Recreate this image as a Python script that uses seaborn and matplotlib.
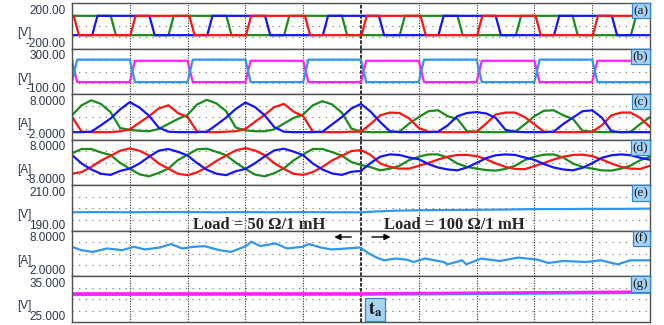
import numpy as np
import matplotlib
matplotlib.use("Agg")
import matplotlib.pyplot as plt
import seaborn as sns

sns.set_style("white")
plt.rcParams["mathtext.fontset"] = "stix"

# ---------------------------------------------------------------- data
# time base in scope divisions (10 divisions across the screen)
t_grid = np.arange(61) / 6.0

# (a) line voltages [V]: switching edge times (divisions) and levels
va_high, va_low = 90, -80
red_a_rise = [1.01, 3.01, 5.01, 7.01, 9.01]
red_a_fall = [0.03, 2.03, 4.03, 6.03, 8.02]
green_a_rise = [1.67, 3.67, 5.67, 7.68, 9.67]
green_a_fall = [0.67, 2.67, 4.67, 6.67, 8.66]
blue_a_rise = [0.35, 2.34, 4.34, 6.34, 8.34]
blue_a_fall = [1.34, 3.34, 5.31, 7.33, 9.34]

# (b) complementary gate/DC-link voltages [V]
cyan_b_high, cyan_b_low = 205, 8
mag_b_high, mag_b_low = 195, 8
cyan_b_rise = [0.0, 2.0, 4.0, 6.0, 8.0]
cyan_b_fall = [1.0, 3.0, 5.0, 7.0, 9.0]
mag_b_rise = [1.0, 3.0, 5.0, 7.0, 9.0]
mag_b_fall = [0.0, 2.0, 4.0, 6.0, 8.0]

# (c) phase currents, rectified view [A]
c_red = [3.1, -0.2, -0.3, -0.3, -0.3, -0.1, 0.3, 1.8, 3.2, 4.9, 5.6, 3.9,
         3.0, -0.2, -0.3, -0.3, -0.2, -0.1, 0.4, 2.0, 3.5, 5.2, 5.9, 4.2,
         3.2, -0.2, -0.3, -0.3, -0.3, -0.2,
         -0.2, 1.5, 3.4, 4.0, 3.9, 2.7, 0.6, -0.2, -0.3, -0.3, -0.3, -0.3,
         -0.2, 1.6, 3.6, 4.0, 4.0, 3.0, 1.4, -0.2, -0.3, -0.3, -0.3, -0.3,
         -0.2, 1.2, 3.4, 4.0, 4.0, 2.8, 0.8]
c_green = [3.4, 5.6, 6.7, 5.9, 4.1, 0.6, 0.2, 0.0, -0.1, 0.4, 1.5, 2.6,
           3.5, 5.8, 6.8, 6.0, 4.3, 0.7, 0.1, -0.1, -0.1, 0.3, 1.6, 2.8,
           3.6, 5.6, 6.5, 5.8, 4.0, 0.5,
           -0.2, -0.3, -0.3, -0.3, -0.2, 1.6, 3.0, 4.3, 4.5, 3.2, 2.6, -0.1,
           -0.2, -0.3, -0.3, -0.3, -0.2, 1.4, 3.2, 4.4, 4.5, 3.4, 2.6, 0.0,
           -0.2, -0.3, -0.3, -0.3, -0.2, 1.5, 3.0]
c_blue = [-0.3, -0.3, -0.2, 1.2, 2.7, 4.7, 6.3, 5.1, 3.3, 0.7, -0.2, -0.3,
          -0.3, -0.3, -0.2, 1.3, 2.9, 4.8, 6.2, 5.2, 3.4, 0.8, -0.2, -0.3,
          -0.3, -0.3, -0.2, 1.4, 3.0, 4.9,
          5.9, 4.2, 1.9, -0.1, -0.3, -0.3, -0.3, -0.3, -0.2, 1.2, 3.2, 3.9,
          4.1, 3.8, 2.8, 0.2, -0.2, -0.3, -0.3, -0.3, -0.2, 1.5, 2.9, 4.3,
          4.5, 2.9, -0.1, -0.3, -0.3, -0.3, -0.3]

# (d) load phase currents [A]
d_red = [-3.9, -3.3, -1.5, 0.7, 2.4, 4.2, 5.0, 4.2, 2.5, -0.3, -2.1, -3.9,
         -4.4, -3.4, -1.6, 0.6, 2.5, 4.3, 5.1, 4.3, 2.6, -0.2, -2.2, -3.9,
         -4.3, -3.3, -1.5, 0.8, 2.4, 4.1,
         4.4, 2.7, -0.3, -1.5, -2.1, -2.1, -1.1, -0.1, 1.1, 2.1, 2.7, 2.7,
         2.3, 1.2, -0.3, -1.5, -2.2, -2.3, -1.2, -0.1, 1.1, 2.1, 2.7, 2.8,
         2.3, 1.1, -0.3, -1.5, -2.1, -2.2, -1.1]
d_green = [3.3, 4.8, 4.8, 3.6, 2.7, -0.1, -2.1, -4.1, -4.8, -3.6, -2.1, 0.9,
           2.8, 4.7, 4.9, 3.8, 2.6, 0.0, -2.2, -4.2, -4.8, -3.7, -2.0, 0.8,
           2.9, 4.8, 4.8, 3.7, 2.5, 0.2,
           -0.8, -1.6, -2.7, -2.1, -1.1, 0.9, 2.1, 2.9, 2.9, 1.8, -0.3, -1.5,
           -2.1, -2.6, -2.8, -2.2, -1.1, 0.9, 2.1, 2.8, 2.9, 1.8, -0.3, -1.5,
           -2.1, -2.7, -2.8, -2.1, -1.0, 0.9, 2.1]
d_blue = [2.7, -0.3, -2.4, -3.9, -4.3, -2.9, -2.1, -0.3, 2.1, 4.2, 4.8, 3.8,
          2.5, -0.2, -2.5, -3.9, -4.4, -3.0, -2.2, -0.2, 2.2, 4.3, 4.9, 3.9,
          2.6, -0.3, -2.4, -3.8, -4.3, -3.2,
          -2.9, -0.1, 2.1, 2.9, 2.7, 1.8, 1.2, -0.5, -1.7, -2.4, -2.7, -1.7,
          -0.1, 1.6, 2.6, 2.9, 2.7, 1.8, 1.0, -0.5, -1.7, -2.4, -2.7, -1.8,
          -0.2, 1.7, 2.6, 2.9, 2.6, 1.7, 1.0]

# (e) DC-link voltage [V]
e_t = [0, 0.5, 1.0, 1.5, 2.0, 2.5, 3.0, 3.5, 4.0, 4.5, 5.0, 5.3, 5.6, 6.0,
       6.5, 7.0, 7.5, 8.0, 8.5, 9.0, 9.5, 10.0]
e_v = [198.2, 198.3, 198.2, 198.3, 198.3, 198.2, 198.3, 198.2, 198.3, 198.2,
       198.2, 198.6, 198.9, 199.1, 199.2, 199.3, 199.4, 199.6, 199.6, 199.7,
       199.7, 199.8]

# (f) DC input current [A]
f_t = [0.0, 0.16, 0.36, 0.61, 0.87, 1.07, 1.26, 1.52, 1.71, 1.91, 2.10, 2.29,
       2.55, 2.75, 3.01, 3.10, 3.26, 3.52, 3.72, 3.98, 4.10, 4.30, 4.49, 4.75,
       4.98, 5.14, 5.27, 5.40, 5.59, 5.79, 5.91, 6.11, 6.43, 6.50, 6.75, 6.82,
       7.08, 7.40, 7.72, 8.05, 8.24, 8.50, 8.89, 9.15, 9.44, 9.66, 10.0]
f_v = [5.91, 5.47, 5.24, 5.69, 5.47, 5.91, 5.56, 5.82, 6.27, 5.69, 5.91, 6.00,
       5.47, 5.24, 6.00, 6.58, 6.00, 6.36, 5.69, 5.91, 6.27, 5.82, 5.56, 5.69,
       5.82, 5.02, 4.49, 4.13, 4.36, 4.22, 3.91, 4.36, 3.91, 3.60, 4.13, 3.60,
       4.36, 4.04, 4.49, 4.22, 3.78, 4.04, 3.91, 4.13, 3.60, 4.13, 4.13]

# (g) capacitor voltages [V]
g_t = [0, 2.5, 5.0, 7.5, 10.0]
g_mag = [31.25, 31.25, 31.25, 31.45, 31.65]
g_cyan = [31.0, 31.05, 31.05, 31.25, 31.45]

# panel ranges, units and tags
y_top = ["200.00", "300.00", "8.0000", "8.0000", "210.00", "8.0000", "35.000"]
y_bot = ["-200.00", "-100.00", "-2.0000", "-8.0000", "190.00", "2.0000", "25.000"]
y_lim = [(-200, 200), (-100, 300), (-2, 8), (-8, 8), (190, 210), (2, 8), (25, 35)]
units = ["[V]", "[V]", "[A]", "[A]", "[V]", "[A]", "[V]"]
tags = ["(a)", "(b)", "(c)", "(d)", "(e)", "(f)", "(g)"]

# ---------------------------------------------------------------- style
RED, GREEN, BLUE = "#ff1414", "#1a8c1a", "#1414ff"
CYAN, MAGENTA = "#2f96f2", "#ff1eff"
EDGE = 0.09   # switching edge duration, divisions
LW = 1.6
W, H = 664, 325
X0, X1 = 72, 650
Y0, Y1 = 3.3, 322.0
PH = (Y1 - Y0) / 7


def edge_trace(start, rises, falls, hi, lo):
    events = sorted([(t, hi) for t in rises] + [(t, lo) for t in falls])
    level = start
    ts, vs = [0.0], [level]
    for t, new in events:
        ts += [t, t + EDGE]
        vs += [level, new]
        level = new
    ts.append(10.0)
    vs.append(level)
    return ts, vs


def trace(ax, x, y, color, lw=LW):
    sns.lineplot(x=x, y=y, ax=ax, color=color, linewidth=lw,
                 estimator=None, sort=False, legend=False)


fig = plt.figure(figsize=(W / 100, H / 100), dpi=100)
axes = []
for i in range(7):
    top = Y0 + i * PH
    ax = fig.add_axes([X0 / W, 1 - (top + PH) / H, (X1 - X0) / W, PH / H])
    lo, hi = y_lim[i]
    ax.set_xlim(0, 10)
    ax.set_ylim(lo, hi)
    ax.set_xticks([])
    ax.set_yticks([])
    ax.set_xlabel("")
    ax.set_ylabel("")
    for s in ax.spines.values():
        s.set_color("#505050")
        s.set_linewidth(1.0)
    for fr in (0.25, 0.5, 0.75):
        ax.axhline(lo + fr * (hi - lo), color="#6a6a6a", lw=0.8,
                   ls=(0, (1, 5)), zorder=0)
    for k in range(1, 10):
        if k == 5:
            ax.axvline(k, color="#202020", lw=1.3, ls=(0, (2, 0.8)), zorder=0)
        else:
            ax.axvline(k, color="#303030", lw=0.8, ls=(0, (1, 1.3)), zorder=0)
    axes.append(ax)

    # scale labels and unit at the left of each panel
    fig.text(65.5 / W, 1 - (top + 7.3) / H, y_top[i], ha="right", va="center",
             fontsize=8.5, family="Liberation Sans", color="#2c3648")
    fig.text(65.5 / W, 1 - (top + PH - 5) / H, y_bot[i], ha="right", va="center",
             fontsize=8.5, family="Liberation Sans", color="#2c3648")
    fig.text(17 / W, 1 - (top + 30) / H, units[i], ha="left", va="center",
             fontsize=8.5, family="Liberation Sans", color="#2c3648")
    ax.text(0.997, 0.835, tags[i], transform=ax.transAxes, ha="right",
            va="center", fontsize=9.5, family="Liberation Serif", color="#1a1a1a",
            zorder=10,
            bbox=dict(boxstyle="square,pad=0.12", fc="#a6d3f5", ec="#3385d6", lw=0.9))

# (a)
ax = axes[0]
trace(ax, *edge_trace(va_high, green_a_rise, green_a_fall, va_high, va_low), GREEN)
trace(ax, *edge_trace(va_low, blue_a_rise, blue_a_fall, va_high, va_low), BLUE)
trace(ax, *edge_trace(va_high, red_a_rise, red_a_fall, va_high, va_low), RED)

# (b)
ax = axes[1]
trace(ax, *edge_trace(mag_b_high, mag_b_rise, mag_b_fall, mag_b_high, mag_b_low), MAGENTA)
trace(ax, *edge_trace(cyan_b_low, cyan_b_rise, cyan_b_fall, cyan_b_high, cyan_b_low), CYAN)

# (c), (d)
for ax, (r, g, b) in zip(axes[2:4], [(c_red, c_green, c_blue), (d_red, d_green, d_blue)]):
    trace(ax, t_grid, g, GREEN)
    trace(ax, t_grid, r, RED)
    trace(ax, t_grid, b, BLUE)

# (e), (f), (g)
trace(axes[4], e_t, e_v, CYAN)
trace(axes[5], f_t, f_v, CYAN)
trace(axes[6], g_t, g_cyan, CYAN, lw=2.0)
trace(axes[6], g_t, g_mag, MAGENTA, lw=2.0)

# load step annotations
axes[4].text(2.1, 190.8, "Load = 50 \u03a9/1 mH", ha="left", va="baseline",
             fontsize=12, fontweight="bold", family="Liberation Serif", zorder=12)
axes[4].text(5.4, 190.8, "Load = 100 \u03a9/1 mH", ha="left", va="baseline",
             fontsize=12, fontweight="bold", family="Liberation Serif", zorder=12)
axes[5].annotate("", xy=(4.49, 7.2), xytext=(4.88, 7.2),
                 arrowprops=dict(arrowstyle="-|>", color="black", lw=1.0,
                                 mutation_scale=9))
axes[5].annotate("", xy=(5.56, 7.2), xytext=(5.14, 7.2),
                 arrowprops=dict(arrowstyle="-|>", color="black", lw=1.0,
                                 mutation_scale=9))
axes[6].text(5.24, 27.75, r"$\mathbf{t}_{\mathbf{a}}$", ha="center", va="center",
             fontsize=13, color="#111111", zorder=12,
             bbox=dict(boxstyle="square,pad=0.15", fc="#a6d3f5", ec="#3385d6", lw=0.9))

fig.savefig("out.png", dpi=100)
